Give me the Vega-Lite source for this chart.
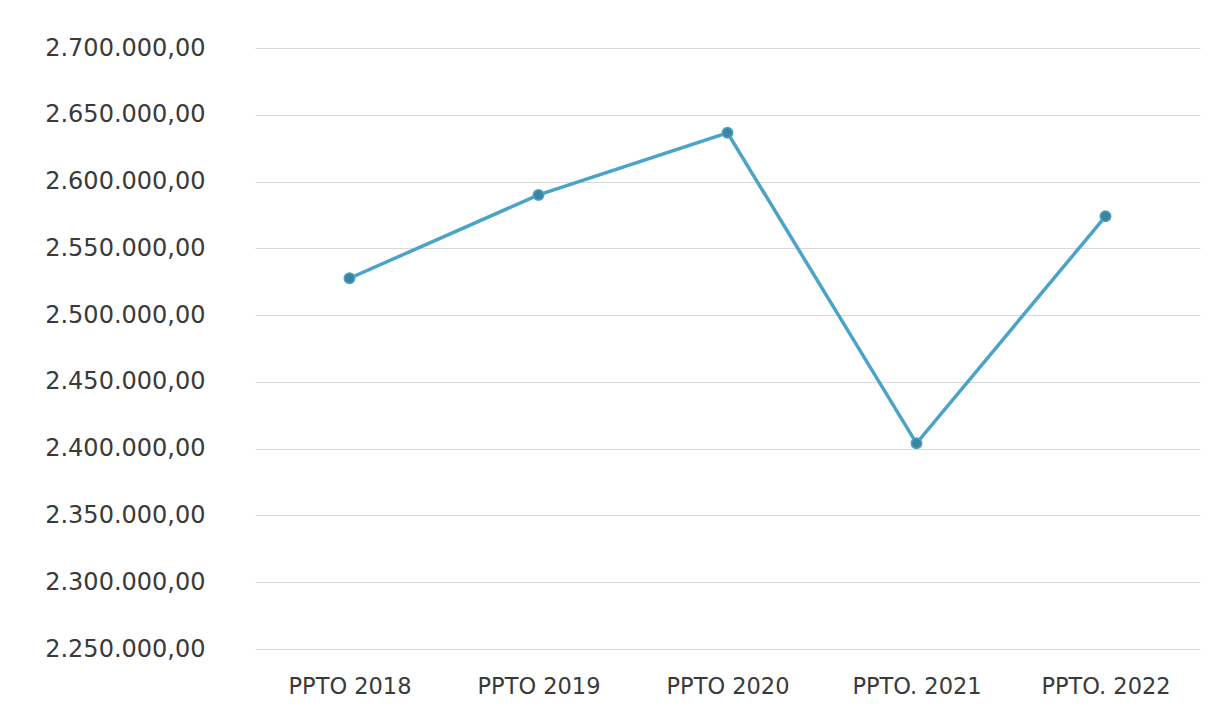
{
  "$schema": "https://vega.github.io/schema/vega-lite/v6.json",
  "width": 945,
  "height": 601,
  "autosize": "none",
  "padding": {"left": 255, "top": 48, "right": 31, "bottom": 70},
  "background": "white",
  "config": {
    "locale": {"number": {"decimal": ",", "thousands": ".", "grouping": [3], "currency": ["", ""]}},
    "view": {"stroke": null},
    "font": "DejaVu Sans"
  },
  "data": {
    "values": [
      {"periodo": "PPTO 2018", "valor": 2527600},
      {"periodo": "PPTO 2019", "valor": 2590000},
      {"periodo": "PPTO 2020", "valor": 2636500},
      {"periodo": "PPTO. 2021", "valor": 2404000},
      {"periodo": "PPTO. 2022", "valor": 2574000}
    ]
  },
  "encoding": {
    "x": {
      "field": "periodo",
      "type": "ordinal",
      "sort": null,
      "scale": {"paddingInner": 0, "paddingOuter": 0},
      "axis": {
        "title": null,
        "labelAngle": 0,
        "domain": false,
        "ticks": false,
        "labelPadding": 26,
        "labelFontSize": 22.5,
        "labelColor": "#3a3a3a",
        "labelFont": "DejaVu Sans"
      }
    },
    "y": {
      "field": "valor",
      "type": "quantitative",
      "scale": {"domain": [2250000, 2700000], "nice": false, "zero": false},
      "axis": {
        "title": null,
        "values": [2250000, 2300000, 2350000, 2400000, 2450000, 2500000, 2550000, 2600000, 2650000, 2700000],
        "format": ",.2f",
        "domain": false,
        "ticks": false,
        "labelPadding": 50,
        "labelFontSize": 24,
        "labelColor": "#3a3a3a",
        "labelFont": "DejaVu Sans",
        "gridColor": "#d9d9d9",
        "gridWidth": 1
      }
    }
  },
  "layer": [
    {"mark": {"type": "line", "color": "#4ba3c7", "strokeWidth": 3.5}},
    {"mark": {"type": "point", "filled": true, "size": 110, "color": "#3e83a0", "stroke": "#4ba3c7", "strokeWidth": 1.5, "opacity": 1}}
  ]
}
